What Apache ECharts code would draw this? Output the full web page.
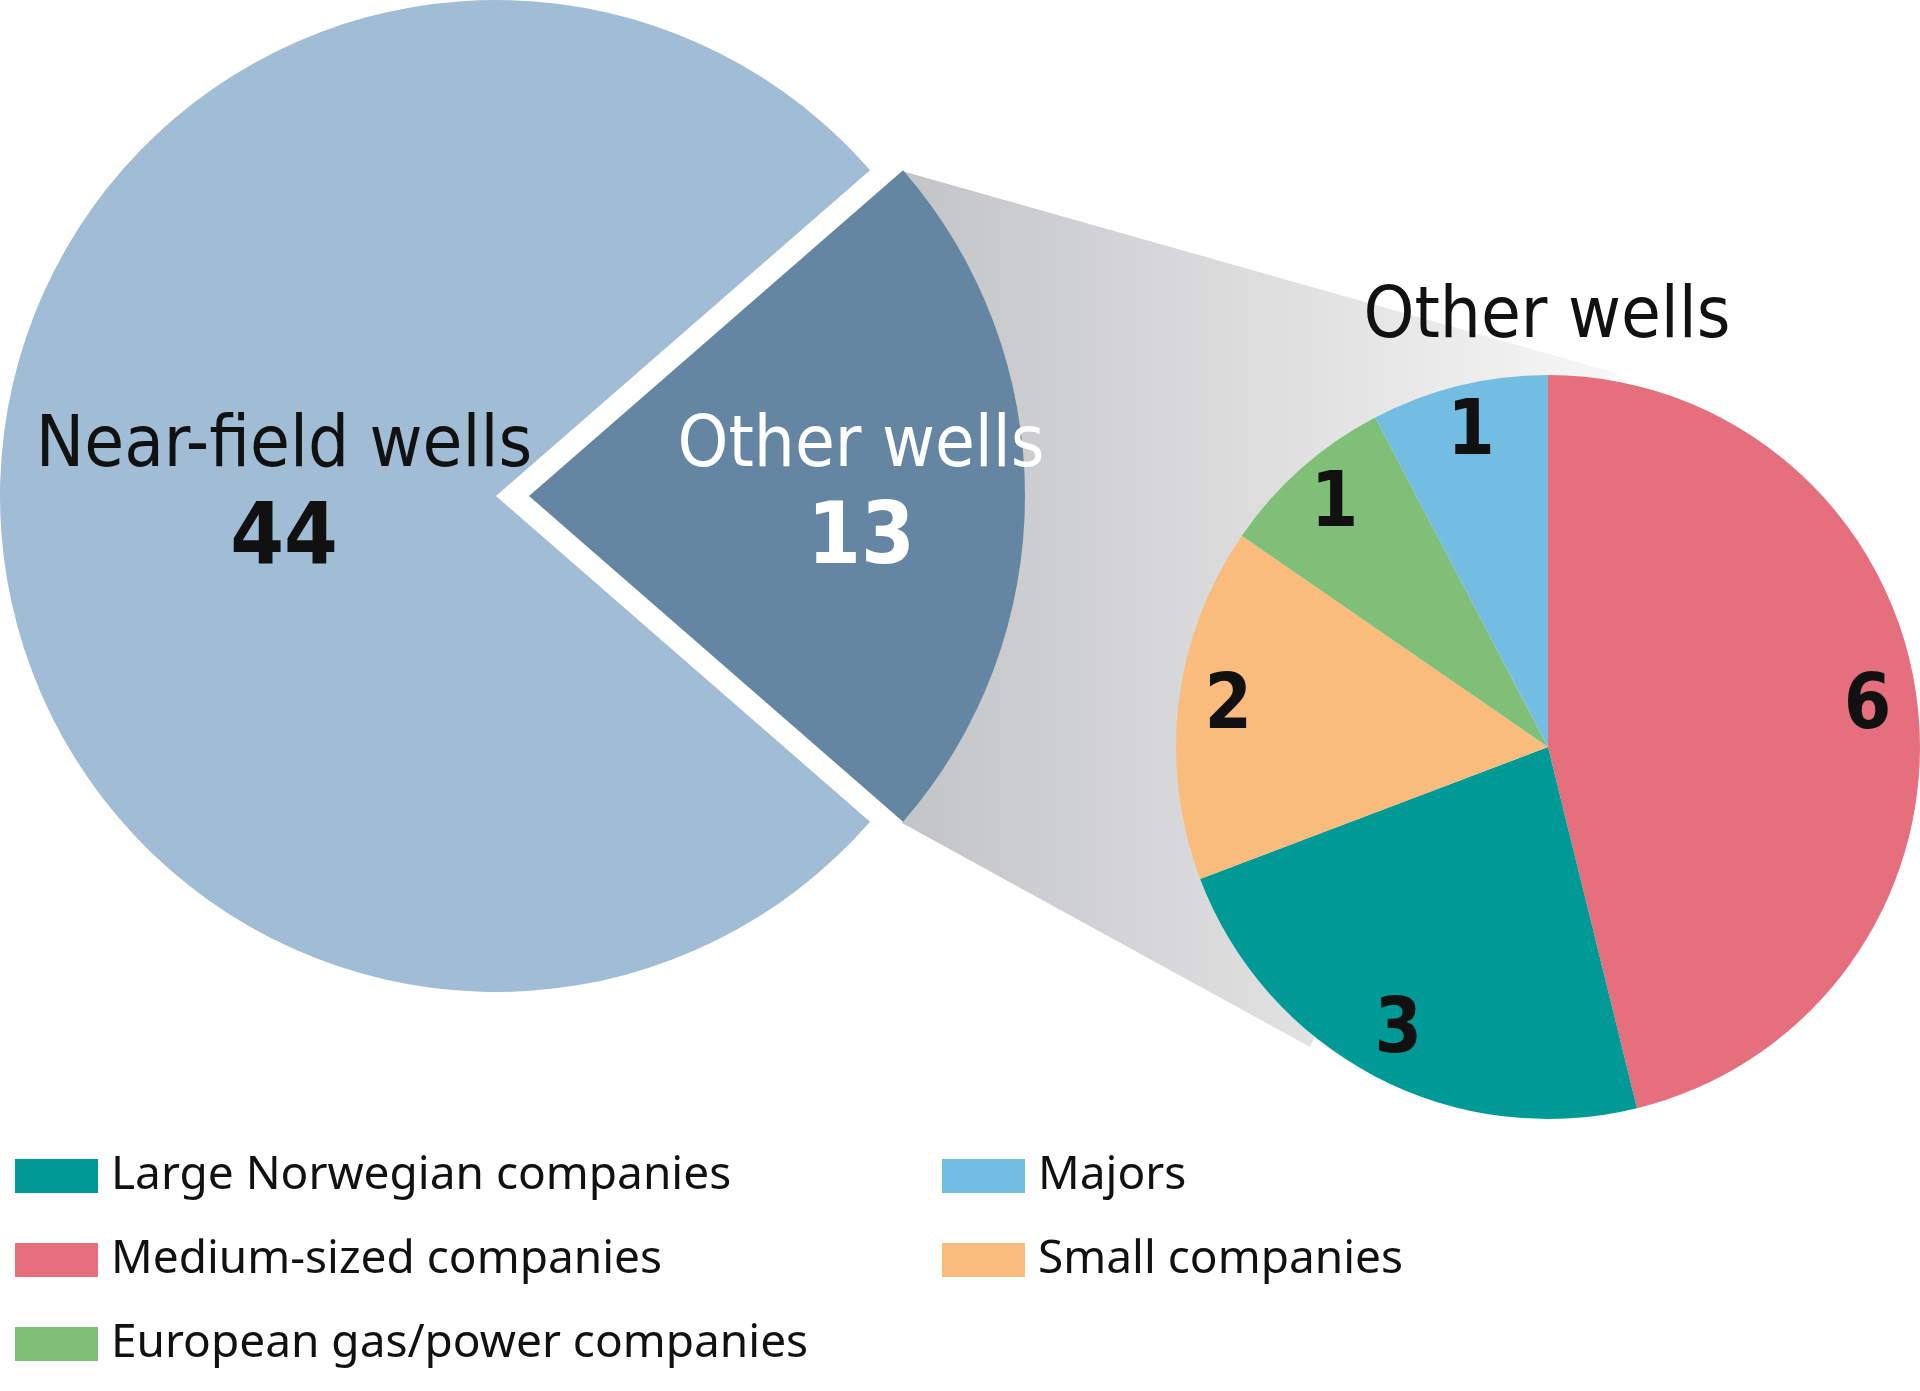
<!DOCTYPE html>
<html><head><meta charset="utf-8">
<script src="https://cdn.jsdelivr.net/npm/echarts@6/dist/echarts.min.js"></script>
<style>html,body{margin:0;padding:0;background:#fff}#c{width:1920px;height:1391px}</style>
</head><body><div id="c"></div>
<script>
const mainCats = ['Other wells', 'Near-field wells'];
const mainVals = [13, 44];
const mainColors = ['#6486a3', '#a1bdd5'];
const subCats = ['Medium-sized companies', 'Large Norwegian companies', 'Small companies', 'European gas/power companies', 'Majors'];
const subVals = [6, 3, 2, 1, 1];
const subColors = ['#e56f7c', '#009a96', '#f9bc7c', '#80bf77', '#74bde2'];
const legendLeft = ['Large Norwegian companies', 'Medium-sized companies', 'European gas/power companies'];
const legendRight = ['Majors', 'Small companies'];
const subTitle = 'Other wells';

const FONT = 'Liberation Sans Narrow, DejaVu Sans Condensed, sans-serif';
const total = mainVals.reduce((a, b) => a + b, 0);
const start = mainVals[0] / total * 360 / 2;
const chart = echarts.init(document.getElementById('c'));
const legendBase = {
  orient: 'vertical', icon: 'rect', itemWidth: 83, itemHeight: 34, itemGap: 38,
  textStyle: { fontFamily: 'Noto Sans, sans-serif', fontSize: 46, color: '#111', padding: [0, 0, 0, 8] },
  selectedMode: false
};
chart.setOption({
  animation: false,
  legend: [
    Object.assign({ left: 10, top: 1148, data: legendLeft }, legendBase),
    Object.assign({ left: 937, top: 1148, data: legendRight }, legendBase)
  ],
  graphic: [
    { type: 'polygon', z: 0, shape: { points: [[902, 171], [1616, 373], [1310, 1047], [902, 823]] },
      style: { fill: new echarts.graphic.LinearGradient(0, 0, 1, 0, [{ offset: 0, color: '#c3c4c6' }, { offset: 1, color: '#f7f7f7' }]) } },
    { type: 'text', x: 284, y: 447, z: 10, style: { text: mainCats[1], fontFamily: FONT, fontSize: 72, fill: '#111', align: 'center', verticalAlign: 'middle' } },
    { type: 'text', x: 284, y: 541, z: 10, style: { text: String(mainVals[1]), fontFamily: FONT, fontWeight: 'bold', fontSize: 86, fill: '#111', align: 'center', verticalAlign: 'middle' } },
    { type: 'text', x: 861, y: 447, z: 10, style: { text: mainCats[0], fontFamily: FONT, fontSize: 72, fill: '#fff', align: 'center', verticalAlign: 'middle' } },
    { type: 'text', x: 861, y: 541, z: 10, style: { text: String(mainVals[0]), fontFamily: FONT, fontWeight: 'bold', fontSize: 86, fill: '#fff', align: 'center', verticalAlign: 'middle' } },
    { type: 'text', x: 1547, y: 318, z: 10, style: { text: subTitle, fontFamily: FONT, fontSize: 72, fill: '#111', align: 'center', verticalAlign: 'middle' } }
  ],
  series: [
    { type: 'pie', center: [496, 496], radius: 496, startAngle: start, clockwise: true,
      selectedMode: 'single', selectedOffset: 33, label: { show: false }, labelLine: { show: false },
      emphasis: { disabled: true }, z: 2,
      data: mainCats.map((n, i) => ({ name: n, value: mainVals[i], selected: i === 0, itemStyle: { color: mainColors[i] } })) },
    { type: 'pie', center: [1548, 747], radius: 372, startAngle: 90, clockwise: true,
      label: { show: false }, labelLine: { show: false }, emphasis: { disabled: true }, z: 2,
      data: subCats.map((n, i) => ({ name: n, value: subVals[i], itemStyle: { color: subColors[i] } })) },
    { type: 'pie', center: [1548, 747], radius: [300, 338], startAngle: 90, clockwise: true, silent: true,
      legendHoverLink: false, emphasis: { disabled: true }, z: 3,
      itemStyle: { color: 'rgba(0,0,0,0)' },
      label: { show: true, position: 'inside', formatter: p => p.value, fontFamily: FONT, fontWeight: 'bold', fontSize: 76, color: '#111' },
      labelLine: { show: false },
      data: subCats.map((n, i) => ({ name: 'lbl' + i, value: subVals[i] })) }
  ]
});
</script></body></html>
